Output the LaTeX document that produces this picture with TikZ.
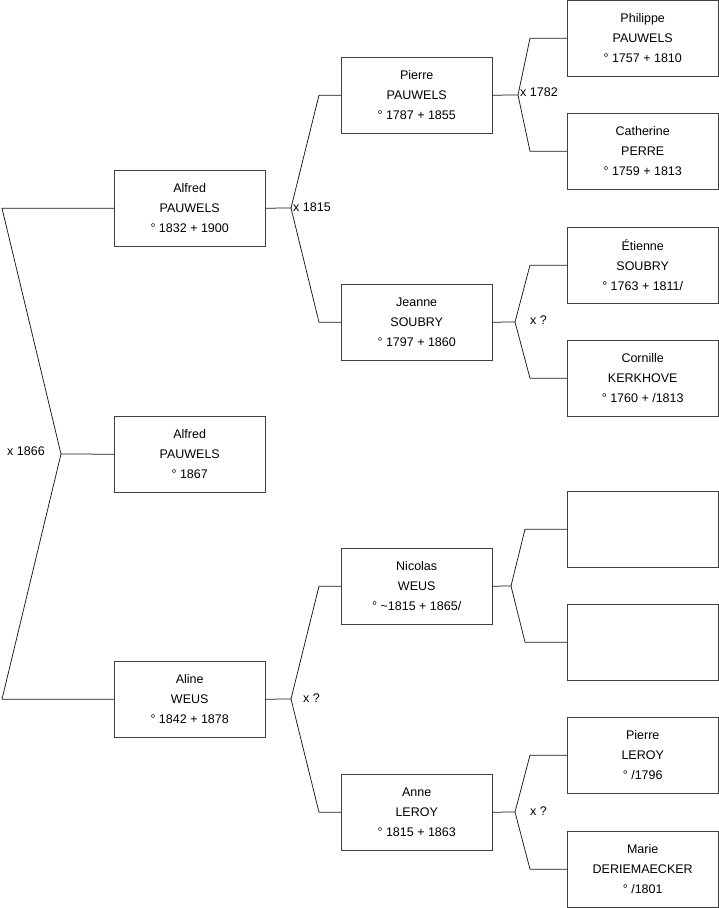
\documentclass[tikz,border=0pt]{standalone}
\usepackage{fontspec}
\setmainfont{Liberation Sans}
\usepackage{tikz}
\usetikzlibrary{positioning}

\begin{document}
\begin{tikzpicture}[
  x=1pt, y=-1pt,
  person/.style={draw=black!75, minimum width=151pt, minimum height=76pt, inner sep=2pt,
    align=center, font=\fontsize{12.5}{20}\selectfont, anchor=north west},
  link/.style={draw=black!90, line width=0.75pt, line join=round},
  marriage/.style={font=\fontsize{12.5}{14}\selectfont, inner sep=1pt},
]
  \useasboundingbox (0,0) rectangle (719,908);

  % generation 1 and 2
  \node[person] (alfredjr) at (114,416) {Alfred\\PAUWELS\\° 1867};
  \node[person] (alfred) at (114,170) {Alfred\\PAUWELS\\° 1832 + 1900};
  \node[person] (aline) at (114,661) {Aline\\WEUS\\° 1842 + 1878};

  % generation 3
  \node[person] (pierre) at (341,57) {Pierre\\PAUWELS\\° 1787 + 1855};
  \node[person] (jeanne) at (341,284) {Jeanne\\SOUBRY\\° 1797 + 1860};
  \node[person] (nicolas) at (341,548) {Nicolas\\WEUS\\° \textasciitilde1815 + 1865/};
  \node[person] (anne) at (341,774) {Anne\\LEROY\\° 1815 + 1863};

  % generation 4
  \node[person] (philippe) at (567,0) {Philippe\\PAUWELS\\° 1757 + 1810};
  \node[person] (catherine) at (567,113) {Catherine\\PERRE\\° 1759 + 1813};
  \node[person] (etienne) at (567,227) {Étienne\\SOUBRY\\° 1763 + 1811/};
  \node[person] (cornille) at (567,340) {Cornille\\KERKHOVE\\° 1760 + /1813};
  \node[person] (unknowna) at (567,491) {};
  \node[person] (unknownb) at (567,604) {};
  \node[person] (pierrel) at (567,717) {Pierre\\LEROY\\° /1796};
  \node[person] (marie) at (567,831) {Marie\\DERIEMAECKER\\° /1801};

  % fork points
  \coordinate (m1866) at (61,454);
  \coordinate (m1815) at (291,208);
  \coordinate (mweus) at (291,699);
  \coordinate (m1782) at (518,95);
  \coordinate (msoubry) at (515,322);
  \coordinate (mnicolas) at (511,586);
  \coordinate (mleroy) at (515,812);

  % marriages
  \draw[link] (alfred.west) -- ([xshift=-112]alfred.west) -- (m1866) -- ([xshift=-112]aline.west) -- (aline.west);
  \draw[link] (m1866) -- (alfredjr.west);
  \node[marriage] (x1866) at (26,451) {x 1866};

  \draw[link] (alfred.east) -- (m1815) -- ([xshift=-22]pierre.west) -- (pierre.west);
  \draw[link] (m1815) -- ([xshift=-22]jeanne.west) -- (jeanne.west);
  \node[marriage, anchor=west] (x1815) at (292,207) {x 1815};

  \draw[link] (aline.east) -- (mweus) -- ([xshift=-22]nicolas.west) -- (nicolas.west);
  \draw[link] (mweus) -- ([xshift=-22]anne.west) -- (anne.west);
  \node[marriage, anchor=west] (xweus) at (302,698) {x ?};

  \draw[link] (pierre.east) -- (m1782) -- ([xshift=-37]philippe.west) -- (philippe.west);
  \draw[link] (m1782) -- ([xshift=-37]catherine.west) -- (catherine.west);
  \node[marriage, anchor=west] (x1782) at (519,92) {x 1782};

  \draw[link] (jeanne.east) -- (msoubry) -- ([xshift=-37]etienne.west) -- (etienne.west);
  \draw[link] (msoubry) -- ([xshift=-37]cornille.west) -- (cornille.west);
  \node[marriage, anchor=west] (xsoubry) at (529,320) {x ?};

  \draw[link] (nicolas.east) -- (mnicolas) -- ([xshift=-42]unknowna.west) -- (unknowna.west);
  \draw[link] (mnicolas) -- ([xshift=-42]unknownb.west) -- (unknownb.west);

  \draw[link] (anne.east) -- (mleroy) -- ([xshift=-37]pierrel.west) -- (pierrel.west);
  \draw[link] (mleroy) -- ([xshift=-37]marie.west) -- (marie.west);
  \node[marriage, anchor=west] (xleroy) at (529,811) {x ?};
\end{tikzpicture}
\end{document}
